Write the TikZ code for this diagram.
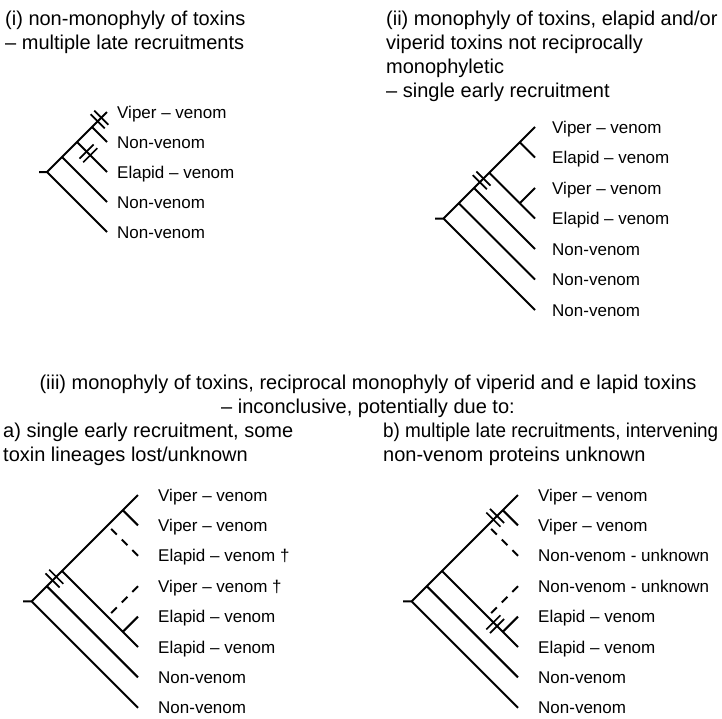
\documentclass[tikz,border=0pt]{standalone}
\usepackage{fontspec}
\setmainfont{Liberation Sans}
\newfontfamily\hdnarrow[FakeStretch=0.945]{Liberation Sans}
\usetikzlibrary{calc}
\tikzset{
  branch/.style={line width=2pt},
  lostbranch/.style={line width=2pt, dash pattern=on 8pt off 7pt},
  hd/.style={anchor=base west, inner sep=0pt, font=\fontsize{20}{24}\selectfont},
  hdc/.style={anchor=base, inner sep=0pt, font=\fontsize{20}{24}\selectfont},
  lab/.style={anchor=base west, inner sep=0pt, font=\fontsize{17}{20}\selectfont},
  dbar/.pic={\draw[line width=1.7pt] (-2.6,-10)--(-2.6,10) (2.6,-10)--(2.6,10);}
}
\begin{document}
\begin{tikzpicture}[x=1pt,y=1pt]
\useasboundingbox (0,0) rectangle (722,-718);
\fill[white] (0,0) rectangle (722,-718);

% ---------- headings ----------
\node[hd] (h1a) at (5,-25) {(i) non-monophyly of toxins};
\node[hd] (h1b) at (5,-49) {– multiple late recruitments};
\node[hd] (h2a) at (386,-25) {(ii) monophyly of toxins, elapid and/or};
\node[hd] (h2b) at (386,-49) {viperid toxins not reciprocally};
\node[hd] (h2c) at (386,-73) {monophyletic};
\node[hd] (h2d) at (386,-97) {– single early recruitment};
\node[hdc] (h3a) at (368,-389) {(iii) monophyly of toxins, reciprocal monophyly of viperid and e lapid toxins};
\node[hdc] (h3b) at (368,-413) {– inconclusive, potentially due to:};
\node[hd] (h4a) at (3,-437) {a) single early recruitment, some};
\node[hd] (h4b) at (3,-461) {toxin lineages lost/unknown};
\node[hd] (h5a) at (383,-437) {\hdnarrow b) multiple late recruitments, intervening};
\node[hd] (h5b) at (383,-461) {non-venom proteins unknown};

% ---------- tree (i) ----------
\coordinate (iT) at (39,-172);
\coordinate (iR) at (47,-172);
\coordinate (in4) at (62,-157);
\coordinate (in3) at (77,-142);
\coordinate (in2) at (92,-127);
\coordinate (iL1) at (107,-112);
\coordinate (iL2) at (107,-142);
\coordinate (iL3) at (107,-172);
\coordinate (iL4) at (107,-202);
\coordinate (iL5) at (107,-232);
\draw[branch] (iT)--(iR) (iR)--(iL1) (iR)--(iL5) (in4)--(iL4) (in3)--(iL3) (in2)--(iL2);
\pic[rotate=45] (im1) at ($(in2)!0.5!(iL1)$) {dbar};
\pic[rotate=-45] (im2) at ($(in3)!0.38!(iL3)$) {dbar};
\node[lab] (it1) at ($(iL1)+(10,-6)$) {Viper – venom};
\node[lab] (it2) at ($(iL2)+(10,-6)$) {Non-venom};
\node[lab] (it3) at ($(iL3)+(10,-6)$) {Elapid – venom};
\node[lab] (it4) at ($(iL4)+(10,-6)$) {Non-venom};
\node[lab] (it5) at ($(iL5)+(10,-6)$) {Non-venom};

% ---------- tree (ii) ----------
\coordinate (jT) at (435,-218.5);
\coordinate (jR) at (443.5,-218.5);
\coordinate (jE) at (458.75,-203.25);
\coordinate (jD) at (474,-188);
\coordinate (jC) at (489.25,-172.75);
\coordinate (jA) at (519.75,-142.25);
\coordinate (jB) at (519.75,-203.25);
\coordinate (jL1) at (535,-127);
\coordinate (jL2) at (535,-157.5);
\coordinate (jL3) at (535,-188);
\coordinate (jL4) at (535,-218.5);
\coordinate (jL5) at (535,-249);
\coordinate (jL6) at (535,-279.5);
\coordinate (jL7) at (535,-310);
\draw[branch] (jT)--(jR) (jR)--(jL1) (jC)--(jL4) (jA)--(jL2) (jB)--(jL3)
  (jD)--(jL5) (jE)--(jL6) (jR)--(jL7);
\pic[rotate=45] (jm1) at ($(jD)!0.5!(jC)$) {dbar};
\node[lab] (jt1) at ($(jL1)+(17,-6)$) {Viper – venom};
\node[lab] (jt2) at ($(jL2)+(17,-6)$) {Elapid – venom};
\node[lab] (jt3) at ($(jL3)+(17,-6)$) {Viper – venom};
\node[lab] (jt4) at ($(jL4)+(17,-6)$) {Elapid – venom};
\node[lab] (jt5) at ($(jL5)+(17,-6)$) {Non-venom};
\node[lab] (jt6) at ($(jL6)+(17,-6)$) {Non-venom};
\node[lab] (jt7) at ($(jL7)+(17,-6)$) {Non-venom};

% ---------- tree (iii a) ----------
\coordinate (aT) at (23,-601.4);
\coordinate (aR) at (31.6,-601.4);
\coordinate (aN) at (46.8,-586.2);
\coordinate (aM) at (62,-571);
\coordinate (aP13) at (107.6,-525.4);
\coordinate (aP12) at (122.8,-510.2);
\coordinate (aQ2) at (107.6,-616.6);
\coordinate (aQ) at (122.8,-631.8);
\coordinate (aL1) at (138,-495);
\coordinate (aL2) at (138,-525.4);
\coordinate (aL3) at (138,-555.8);
\coordinate (aL4) at (138,-586.2);
\coordinate (aL5) at (138,-616.6);
\coordinate (aL6) at (138,-647);
\coordinate (aL7) at (138,-677.4);
\coordinate (aL8) at (138,-707.8);
\draw[branch] (aT)--(aR) (aR)--(aL1) (aM)--(aL6) (aP12)--(aL2) (aQ)--(aL5)
  (aN)--(aL7) (aR)--(aL8);
\draw[lostbranch] (aL3)--(aP13);
\draw[lostbranch] (aL4)--(aQ2);
\pic[rotate=45] (am1) at ($(aN)!0.5!(aM)$) {dbar};
\node[lab] (at1) at ($(aL1)+(20,-6)$) {Viper – venom};
\node[lab] (at2) at ($(aL2)+(20,-6)$) {Viper – venom};
\node[lab] (at3) at ($(aL3)+(20,-6)$) {Elapid – venom †};
\node[lab] (at4) at ($(aL4)+(20,-6)$) {Viper – venom †};
\node[lab] (at5) at ($(aL5)+(20,-6)$) {Elapid – venom};
\node[lab] (at6) at ($(aL6)+(20,-6)$) {Elapid – venom};
\node[lab] (at7) at ($(aL7)+(20,-6)$) {Non-venom};
\node[lab] (at8) at ($(aL8)+(20,-6)$) {Non-venom};

% ---------- tree (iii b) ----------
\coordinate (bT) at (403,-601.4);
\coordinate (bR) at (411.6,-601.4);
\coordinate (bN) at (426.8,-586.2);
\coordinate (bM) at (442,-571);
\coordinate (bP13) at (487.6,-525.4);
\coordinate (bP12) at (502.8,-510.2);
\coordinate (bQ2) at (487.6,-616.6);
\coordinate (bQ) at (502.8,-631.8);
\coordinate (bL1) at (518,-495);
\coordinate (bL2) at (518,-525.4);
\coordinate (bL3) at (518,-555.8);
\coordinate (bL4) at (518,-586.2);
\coordinate (bL5) at (518,-616.6);
\coordinate (bL6) at (518,-647);
\coordinate (bL7) at (518,-677.4);
\coordinate (bL8) at (518,-707.8);
\draw[branch] (bT)--(bR) (bR)--(bL1) (bM)--(bL6) (bP12)--(bL2) (bQ)--(bL5)
  (bN)--(bL7) (bR)--(bL8);
\draw[lostbranch] (bL3)--(bP13);
\draw[lostbranch] (bL4)--(bQ2);
\pic[rotate=45] (bm1) at ($(bP13)!0.5!(bP12)$) {dbar};
\pic[rotate=-45] (bm2) at ($(bQ2)!0.5!(bQ)$) {dbar};
\node[lab] (bt1) at ($(bL1)+(20,-6)$) {Viper – venom};
\node[lab] (bt2) at ($(bL2)+(20,-6)$) {Viper – venom};
\node[lab] (bt3) at ($(bL3)+(20,-6)$) {Non-venom - unknown};
\node[lab] (bt4) at ($(bL4)+(20,-6)$) {Non-venom - unknown};
\node[lab] (bt5) at ($(bL5)+(20,-6)$) {Elapid – venom};
\node[lab] (bt6) at ($(bL6)+(20,-6)$) {Elapid – venom};
\node[lab] (bt7) at ($(bL7)+(20,-6)$) {Non-venom};
\node[lab] (bt8) at ($(bL8)+(20,-6)$) {Non-venom};
\end{tikzpicture}
\end{document}
